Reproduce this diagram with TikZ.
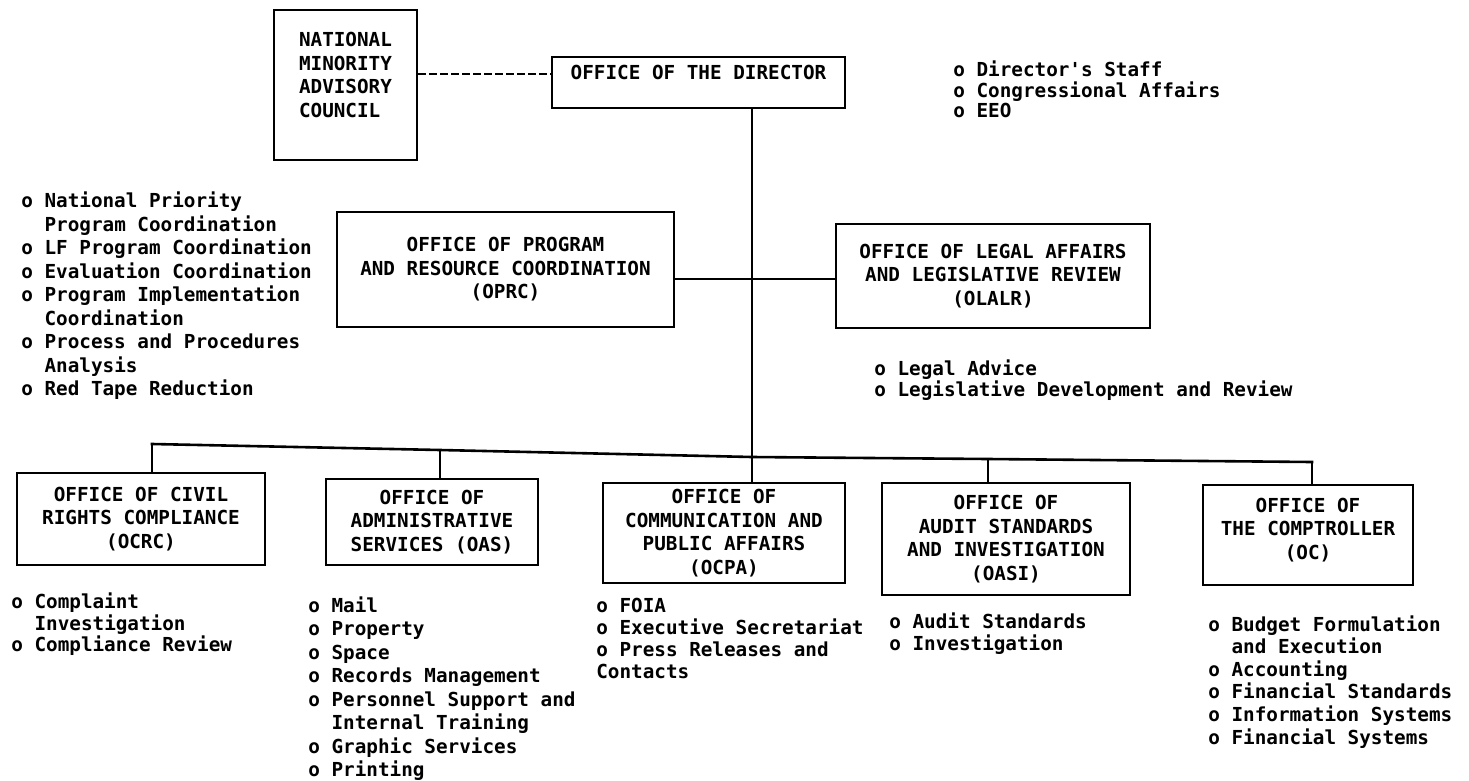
\documentclass[tikz,border=0pt]{standalone}
\usepackage{fontspec}
\setmonofont{DejaVu Sans Mono}
\newcommand\listind{\phantom{o\ }}
\begin{document}
\begin{tikzpicture}
  [x=1pt,y=-1pt,line width=2.6pt,line cap=rect,
   every node/.style={font=\ttfamily\bfseries\fontsize{19.3}{23.5}\selectfont},
   office/.style={draw,align=center,inner sep=0pt},
   duties/.style={anchor=north west,align=left,inner sep=0pt},
   tight/.style={font=\ttfamily\bfseries\fontsize{19.3}{20.5}\selectfont},
   advisory/.style={dash pattern=on 8pt off 3pt,line cap=butt}]
  \fill[white] (0,0) rectangle (1469,774);

  \node[office,minimum width=143pt,minimum height=150pt,
    label={[align=left,yshift=10pt]center:NATIONAL\\MINORITY\\ADVISORY\\COUNCIL}] (nmac) at (345.5,85) {};
  \node[office,minimum width=293pt,minimum height=51pt,text depth=20pt] (dir) at (698.5,82.5) {OFFICE OF THE DIRECTOR};
  \node[office,minimum width=337pt,minimum height=115pt] (oprc) at (505.5,269.5) {OFFICE OF PROGRAM\\AND RESOURCE COORDINATION\\(OPRC)};
  \node[office,minimum width=314pt,minimum height=104pt] (olalr) at (993,276) {OFFICE OF LEGAL AFFAIRS\\AND LEGISLATIVE REVIEW\\(OLALR)};
  \node[office,minimum width=248pt,minimum height=92pt] (ocrc) at (141,519) {OFFICE OF CIVIL\\RIGHTS COMPLIANCE\\(OCRC)};
  \node[office,minimum width=212pt,minimum height=86pt] (oas) at (432,522) {OFFICE OF\\ADMINISTRATIVE\\SERVICES (OAS)};
  \node[office,minimum width=242pt,minimum height=100pt] (ocpa) at (724,533) {OFFICE OF\\COMMUNICATION AND\\PUBLIC AFFAIRS\\(OCPA)};
  \node[office,minimum width=248pt,minimum height=112pt] (oasi) at (1006,539) {OFFICE OF\\AUDIT STANDARDS\\AND INVESTIGATION\\(OASI)};
  \node[office,minimum width=210pt,minimum height=100pt,
    label={[align=center,yshift=5pt]center:OFFICE OF\\THE COMPTROLLER\\(OC)}] (oc) at (1308,535) {};

  \node[duties,tight] (dirlist) at (952,60) {o Director's Staff\\o Congressional Affairs\\o EEO};
  \node[duties] (oprclist) at (20,191) {o National Priority\\\listind Program Coordination\\o LF Program Coordination\\o Evaluation Coordination\\o Program Implementation\\\listind Coordination\\o Process and Procedures\\\listind Analysis\\o Red Tape Reduction};
  \node[duties,tight] (olalrlist) at (873,359) {o Legal Advice\\o Legislative Development and Review};
  \node[duties,font=\ttfamily\bfseries\fontsize{19.3}{21.5}\selectfont] (ocrclist) at (10,592) {o Complaint\\\listind Investigation\\o Compliance Review};
  \node[duties] (oaslist) at (307,595) {o Mail\\o Property\\o Space\\o Records Management\\o Personnel Support and\\\listind Internal Training\\o Graphic Services\\o Printing};
  \node[duties,font=\ttfamily\bfseries\fontsize{19.3}{22}\selectfont] (ocpalist) at (595,597) {o FOIA\\o Executive Secretariat\\o Press Releases and\\Contacts};
  \node[duties,font=\ttfamily\bfseries\fontsize{19.3}{22}\selectfont] (oasilist) at (888,612) {o Audit Standards\\o Investigation};
  \node[duties,font=\ttfamily\bfseries\fontsize{19.3}{22.6}\selectfont] (oclist) at (1207,614) {o Budget Formulation\\\listind and Execution\\o Accounting\\o Financial Standards\\o Information Systems\\o Financial Systems};

  \coordinate (link) at (480,74);
  \coordinate (tee) at (751,279);
  \coordinate (d1) at (152,444);
  \coordinate (d2) at (440,450);
  \coordinate (d3) at (752,457);
  \coordinate (d4) at (988,459);
  \coordinate (d5) at (1312,462);

  \draw[advisory] (nmac.east |- link) -- (dir.west |- link);
  \draw (dir.south -| d3) -- (ocpa.north -| d3);
  \draw (oprc.east |- tee) -- (olalr.west |- tee);
  \draw (d1) -- (d2) -- (d3) -- (d4) -- (d5);
  \foreach \b/\d in {ocrc/d1,oas/d2,oasi/d4,oc/d5}
    \draw (\d) -- (\b.north -| \d);
\end{tikzpicture}
\end{document}
